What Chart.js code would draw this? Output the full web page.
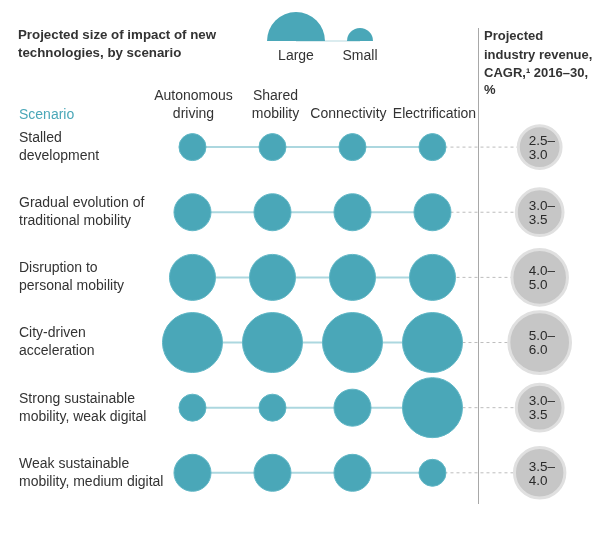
<!DOCTYPE html>
<html>
<head>
<meta charset="utf-8">
<script src="https://cdn.jsdelivr.net/npm/chart.js@4.4.1/dist/chart.umd.min.js"></script>
<style>
  html, body { margin: 0; padding: 0; background: #ffffff; }
  #wrap { width: 600px; height: 533px; position: relative; }
</style>
</head>
<body>
<div id="wrap"><canvas id="c"></canvas></div>
<script>
// ---- data ----
const technologies = [["Autonomous", "driving"], ["Shared", "mobility"], ["Connectivity"], ["Electrification"]];
const scenarios = [
  ["Stalled", "development"],
  ["Gradual evolution of", "traditional mobility"],
  ["Disruption to", "personal mobility"],
  ["City-driven", "acceleration"],
  ["Strong sustainable", "mobility, weak digital"],
  ["Weak sustainable", "mobility, medium digital"]
];
// impact level per scenario (rows) and technology (columns): 1 = small ... 4 = large
const impactAutonomous     = [1, 2, 3, 4, 1, 2];
const impactShared         = [1, 2, 3, 4, 1, 2];
const impactConnectivity   = [1, 2, 3, 4, 2, 2];
const impactElectrification= [1, 2, 3, 4, 4, 1];
// projected industry revenue CAGR 2016-30, % (low, high)
const cagrLow  = [2.5, 3.0, 4.0, 5.0, 3.0, 3.5];
const cagrHigh = [3.0, 3.5, 5.0, 6.0, 3.5, 4.0];
const legendLabels = ["Large", "Small"];

// ---- styling ----
const TEAL = "#4aa7b8";
const TEAL_LINE = "#acd7df";
const GREY_FILL = "#c6c6c6";
const GREY_RING = "#e0e0e0";
const TEXT = "#333333";
const FONT = "'Liberation Sans', Arial, Helvetica, sans-serif";
const levelRadius = { 1: 13.5, 2: 18.5, 3: 23, 4: 30 };
const cagrColumn = 4.34; // position of the revenue column on the column axis

const impacts = [impactAutonomous, impactShared, impactConnectivity, impactElectrification];

const tealPoints = [];
impacts.forEach((col, ci) => col.forEach((lvl, ri) => {
  tealPoints.push({ x: ci, y: ri, r: levelRadius[lvl] });
}));
const greyPoints = cagrLow.map((lo, ri) => {
  const mid = (lo + cagrHigh[ri]) / 2;
  return { x: cagrColumn, y: ri, r: 13.8 * Math.sqrt(mid) - 1.5, lo: lo, hi: cagrHigh[ri] };
});

const datasets = [
  { type: "bubble", label: "revenue", data: greyPoints, backgroundColor: GREY_FILL,
    borderColor: GREY_RING, borderWidth: 3, hoverRadius: 0, order: 0 },
  { type: "bubble", label: "impact", data: tealPoints, backgroundColor: TEAL,
    borderColor: "#5fb6c5", borderWidth: 1, hoverRadius: 0, order: 1 }
];
scenarios.forEach((s, ri) => {
  datasets.push({ type: "line", data: [{ x: 0, y: ri }, { x: technologies.length - 1, y: ri }],
    borderColor: TEAL_LINE, borderWidth: 2, pointRadius: 0, order: 3 });
  datasets.push({ type: "line", data: [{ x: technologies.length - 1, y: ri }, { x: cagrColumn, y: ri }],
    borderColor: "#bdbdbd", borderWidth: 1, borderDash: [3, 3], pointRadius: 0, order: 3 });
});

const textPlugin = {
  id: "texts",
  afterDatasetsDraw(chart) {
    const ctx = chart.ctx;
    const xs = chart.scales.x, ys = chart.scales.y;
    ctx.save();
    ctx.textBaseline = "middle";
    ctx.fillStyle = TEXT;

    // title
    ctx.font = "bold 13.3px " + FONT;
    ctx.textAlign = "left";
    ctx.fillText("Projected size of impact of new", 18, 35);
    ctx.fillText("technologies, by scenario", 18, 53);

    // right header
    ctx.font = "bold 13px " + FONT;
    ["Projected", "industry revenue,", "CAGR,\u00B9 2016\u201330,", "%"].forEach((t, i) => {
      ctx.fillText(t, 484, [36, 55, 73, 90][i]);
    });

    // legend semicircles
    const baseY = 41;
    const lx = [296, 360];
    ctx.strokeStyle = "#cfe6ea";
    ctx.lineWidth = 1.5;
    ctx.beginPath(); ctx.moveTo(lx[0], baseY); ctx.lineTo(lx[1], baseY); ctx.stroke();
    ctx.fillStyle = TEAL;
    [levelRadius[4] - 1, levelRadius[1] - 0.5].forEach((r, i) => {
      ctx.beginPath(); ctx.arc(lx[i], baseY, r, Math.PI, 2 * Math.PI); ctx.closePath(); ctx.fill();
    });
    ctx.fillStyle = TEXT;
    ctx.font = "14px " + FONT;
    ctx.textAlign = "center";
    legendLabels.forEach((t, i) => ctx.fillText(t, lx[i], 56));

    // "Scenario"
    ctx.textAlign = "left";
    ctx.fillStyle = TEAL;
    ctx.fillText("Scenario", 19, 115);

    // column headers
    ctx.fillStyle = TEXT;
    ctx.textAlign = "center";
    technologies.forEach((lines, ci) => {
      const x = xs.getPixelForValue(ci) + [1, 3, -4, 2][ci];
      lines.forEach((t, li) => {
        ctx.fillText(t, x, 114 - (lines.length - 1 - li) * 18);
      });
    });

    // row labels
    ctx.textAlign = "left";
    scenarios.forEach((lines, ri) => {
      const y = ys.getPixelForValue(ri);
      ctx.fillText(lines[0], 19, y - 9);
      ctx.fillText(lines[1], 19, y + 9);
    });

    // separator
    ctx.strokeStyle = "#a8a8a8";
    ctx.lineWidth = 1;
    ctx.beginPath(); ctx.moveTo(478.5, 28); ctx.lineTo(478.5, 504); ctx.stroke();

    // values in grey circles
    const meta = chart.getDatasetMeta(0);
    ctx.fillStyle = "#2a2a2a";
    ctx.font = "13.5px " + FONT;
    meta.data.forEach((el, i) => {
      const p = greyPoints[i];
      ctx.fillText(p.lo.toFixed(1) + "\u2013", el.x - 11, el.y - 6);
      ctx.fillText(p.hi.toFixed(1), el.x - 11, el.y + 8);
    });
    ctx.restore();
  }
};

new Chart(document.getElementById("c"), {
  type: "bubble",
  data: { datasets: datasets },
  options: {
    responsive: true,
    maintainAspectRatio: false,
    animation: false,
    layout: { padding: 0, autoPadding: false },
    plugins: { legend: { display: false }, tooltip: { enabled: false } },
    elements: { line: { tension: 0 } },
    scales: {
      x: { type: "linear", display: false, min: -2.406, max: 5.094 },
      y: { type: "linear", display: false, reverse: true, min: -2.258, max: 5.924 }
    }
  },
  plugins: [textPlugin]
});
</script>
</body>
</html>
